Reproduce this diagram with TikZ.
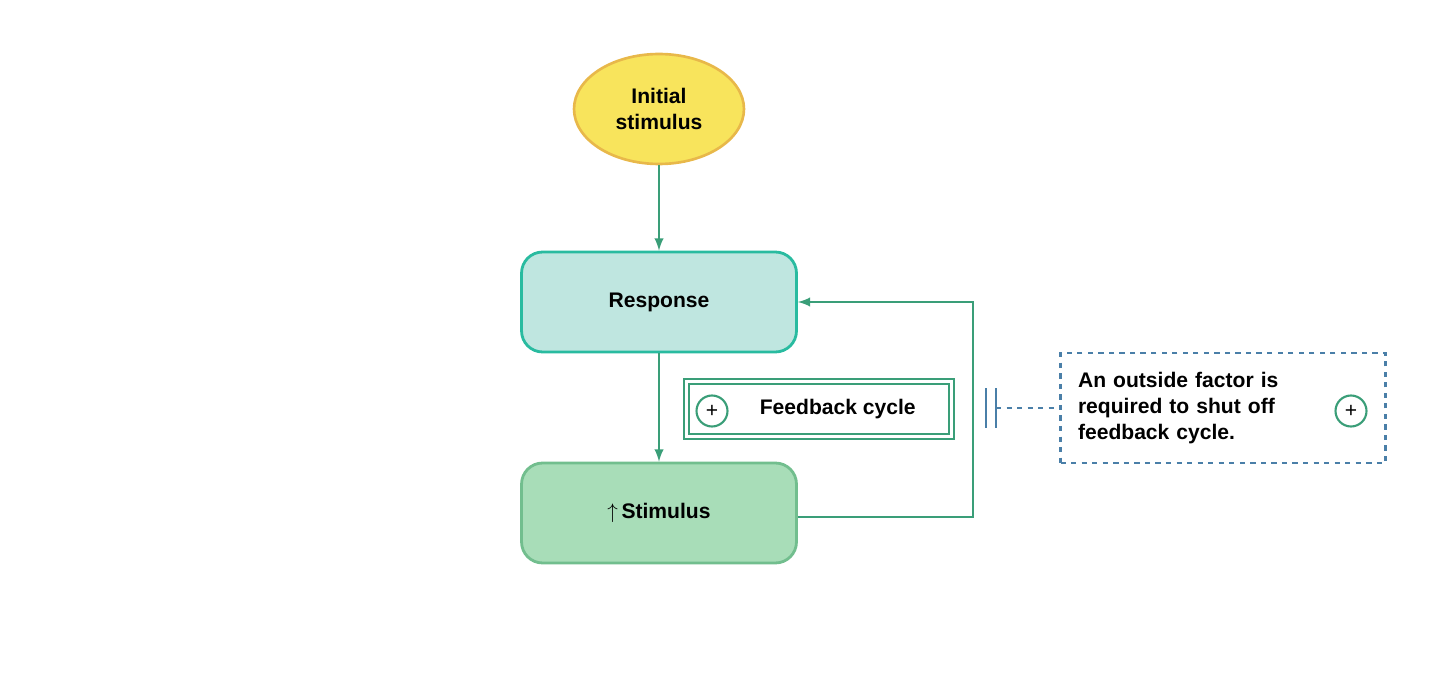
\documentclass[tikz,border=0pt]{standalone}
\usepackage{fontspec}
\setmainfont{Liberation Sans}
\usetikzlibrary{shapes.geometric,positioning,calc}
\definecolor{fbgreen}{HTML}{3A9E78}
\definecolor{respfill}{HTML}{BFE6E0}
\definecolor{stimfill}{HTML}{A8DDB8}
\definecolor{stimdraw}{HTML}{72BE8E}
\definecolor{elfill}{HTML}{F8E45C}
\definecolor{eldraw}{HTML}{E8B84A}
\definecolor{dashblue}{HTML}{4A7FA8}
\tikzset{
  txt/.style={font=\fontsize{12}{15}\selectfont\bfseries, align=left},
  stage/.style={txt, draw, rounded corners=12pt, line width=1.6pt, minimum width=5.5cm, minimum height=2cm},
  plus/.style={circle, draw=fbgreen, line width=1.2pt, inner sep=0pt, minimum size=0.62cm, font=\fontsize{12}{12}\selectfont},
  flow/.style={draw=fbgreen, line width=1.4pt, -latex},
}
\begin{document}
\begin{tikzpicture}[x=0.02cm, y=-0.02cm]
    \useasboundingbox (0,0) rectangle (1440,682);
    \node[txt, ellipse, fill=elfill, draw=eldraw, line width=1.5pt, minimum width=3.4cm, minimum height=2.2cm, align=center] (init) at (659,109) {Initial\\stimulus};
    \node[stage, fill=respfill, draw=fbgreen!70!cyan] (resp) at (659,302) {Response};
    \node[stage, fill=stimfill, draw=stimdraw] (stim) at (659,513) {$\uparrow$\,Stimulus};

    \draw[flow] (init) -- (resp);
    \draw[flow] (resp) -- (stim);

    \coordinate (loopb) at (973,517);
    \coordinate (loopt) at (973,302);
    \draw[flow] (stim.east |- loopb) -- (loopb) -- (loopt) -- (resp.east);

    % feedback label
    \node[txt, draw=fbgreen, double=white, double distance=1.5pt, line width=1.3pt, minimum width=5.3cm, minimum height=1.1cm] (fb) at (819,409) {\hspace{0.75cm}Feedback cycle};
    \node[plus] (fbplus) at (712,411) {+};

    % outside factor
    \node[txt, draw=dashblue, dashed, line width=1.2pt, minimum width=6.5cm, minimum height=2.2cm, text width=5.8cm, inner xsep=7pt] (out) at (1223,408) {An outside factor is\\required to shut off\\feedback cycle.};
    \node[plus] (outplus) at (1351,411) {+};
    \coordinate (bar1) at (986,408);
    \coordinate (bar2) at (996,408);
    \draw[dashblue, line width=1.5pt] ($(bar1)+(0,-20)$) -- ($(bar1)+(0,20)$);
    \draw[dashblue, line width=1.5pt] ($(bar2)+(0,-20)$) -- ($(bar2)+(0,20)$);
    \draw[dashblue, dashed, line width=1.5pt] (bar2) -- (out.west);
\end{tikzpicture}
\end{document}
